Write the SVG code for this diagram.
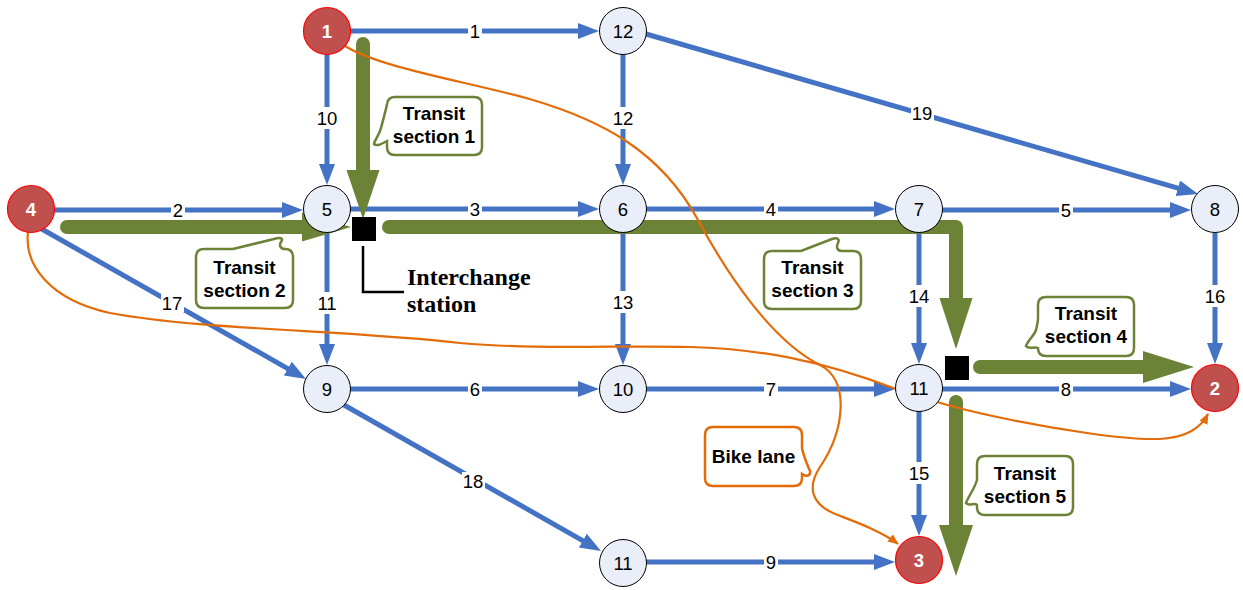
<svg xmlns="http://www.w3.org/2000/svg" width="1243" height="590" viewBox="0 0 1243 590">
<style>
.edge{stroke:#4472C4;stroke-width:5;fill:none;marker-end:url(#ab)}
.lbl rect{fill:#fff}
.lbl text,.node text{font-family:"Liberation Sans",Arial,sans-serif;font-size:18.5px;text-anchor:middle;fill:#000}
.node circle{fill:#E9EEF8;stroke:#000;stroke-width:1}
.src circle{fill:#C0504D;stroke:#FF0000;stroke-width:1.2}
.src text{fill:#fff;font-weight:bold}
.tr{stroke:#6B8237;stroke-width:14;fill:none;stroke-linecap:round;stroke-linejoin:round}
.trh{fill:#6B8237}
.bike{stroke:#E36C09;stroke-width:2.2;fill:none;marker-end:url(#ao)}
.co{fill:#fff;stroke:#6B8237;stroke-width:2.5}
.cob{fill:#fff;stroke:#E36C09;stroke-width:2.5}
.ct{font-family:"Liberation Sans",Arial,sans-serif;font-size:19px;font-weight:bold;text-anchor:middle;fill:#000}
.ic{font-family:"Liberation Serif","Times New Roman",serif;font-size:24px;font-weight:bold;fill:#000}
</style>
<defs>
<marker id="ab" markerUnits="userSpaceOnUse" markerWidth="22" markerHeight="17" refX="9" refY="8" orient="auto">
<path d="M0,0 L21,8 L0,16 Z" fill="#4472C4"/>
</marker>
<marker id="ao" markerUnits="userSpaceOnUse" markerWidth="12" markerHeight="10" refX="10" refY="4.5" orient="auto">
<path d="M0,0 L11,4.5 L0,9 Z" fill="#E36C09"/>
</marker>
</defs>
<rect width="1243" height="590" fill="#fff"/>

<g id="connectors">
<g id="blue-edges">
<line class="edge" x1="350" y1="31" x2="587" y2="31"/>
<line class="edge" x1="327" y1="54" x2="327" y2="173"/>
<line class="edge" x1="623" y1="54" x2="623" y2="173"/>
<line class="edge" x1="646" y1="34" x2="1186.5" y2="190.7"/>
<line class="edge" x1="54" y1="210" x2="291" y2="210"/>
<line class="edge" x1="350" y1="209" x2="587" y2="209"/>
<line class="edge" x1="646" y1="209" x2="883" y2="209"/>
<line class="edge" x1="942" y1="210" x2="1179" y2="210"/>
<line class="edge" x1="327" y1="233" x2="327" y2="353"/>
<line class="edge" x1="623" y1="233" x2="623" y2="353"/>
<line class="edge" x1="919" y1="233" x2="919" y2="352"/>
<line class="edge" x1="1215" y1="233" x2="1215" y2="352"/>
<line class="edge" x1="40" y1="228" x2="295.6" y2="373.1"/>
<line class="edge" x1="350" y1="389" x2="587" y2="389"/>
<line class="edge" x1="646" y1="389" x2="883" y2="389"/>
<line class="edge" x1="942" y1="389" x2="1179" y2="389"/>
<line class="edge" x1="344" y1="405" x2="590.6" y2="545.1"/>
<line class="edge" x1="919" y1="411" x2="919" y2="524"/>
<line class="edge" x1="646" y1="562" x2="883" y2="562"/>
</g>
<g id="edge-labels" class="lbl">
<rect x="468" y="21" width="14" height="20"/><text x="475" y="37.5">1</text>
<rect x="315" y="107" width="24" height="22"/><text x="327" y="124.5">10</text>
<rect x="611" y="107" width="24" height="22"/><text x="623" y="124.5">12</text>
<rect x="911" y="104" width="23" height="18"/><text x="922" y="119.5">19</text>
<rect x="171" y="200" width="14" height="20"/><text x="178" y="216.5">2</text>
<rect x="468" y="199" width="14" height="20"/><text x="475" y="215.5">3</text>
<rect x="764" y="199" width="14" height="20"/><text x="771" y="215.5">4</text>
<rect x="1059" y="200" width="14" height="20"/><text x="1066" y="216.5">5</text>
<rect x="315" y="292" width="24" height="22"/><text x="327" y="309.5">11</text>
<rect x="611" y="291" width="24" height="22"/><text x="623" y="308.5">13</text>
<rect x="907" y="285" width="24" height="22"/><text x="919" y="302.5">14</text>
<rect x="1203" y="285" width="24" height="22"/><text x="1215" y="302.5">16</text>
<rect x="161" y="294" width="23" height="18"/><text x="172" y="309.5">17</text>
<rect x="468" y="379" width="14" height="20"/><text x="475" y="395.5">6</text>
<rect x="764" y="379" width="14" height="20"/><text x="771" y="395.5">7</text>
<rect x="1059" y="379" width="14" height="20"/><text x="1066" y="395.5">8</text>
<rect x="462" y="472" width="23" height="18"/><text x="473" y="487.5">18</text>
<rect x="907" y="462" width="24" height="22"/><text x="919" y="479.5">15</text>
<rect x="764" y="552" width="14" height="20"/><text x="771" y="568.5">9</text>
</g>
<g id="transit">
<line class="tr" x1="363" y1="44" x2="363" y2="172"/>
<polygon class="trh" points="346.5,170 379.5,170 363,219"/>
<line class="tr" x1="67" y1="227" x2="305" y2="227"/>
<polygon class="trh" points="302,212.5 302,241.5 351,227"/>
<polyline class="tr" points="389,227 956,227 956,300"/>
<polygon class="trh" points="939.5,298 972.5,298 956,349"/>
<line class="tr" x1="980" y1="367" x2="1146" y2="367"/>
<polygon class="trh" points="1143,351 1143,383 1194,367"/>
<line class="tr" x1="956" y1="402" x2="956" y2="527"/>
<polygon class="trh" points="939,525 973,525 956,576"/>
</g>
<g id="bike-lanes">
<path class="bike" d="M345,46 C380,68 470,82 533,100 C600,120 660,150 698,220 C725,270 770,340 820,365 C850,380 845,430 820,467 C805,490 815,505 833,513 C850,520 880,530 898,544"/>
<path class="bike" d="M28,232 C24,265 50,300 110,313 C200,330 350,330 460,343 C540,350 620,345 690,347 C760,349 820,360 896,389 L937,402 C970,412 1030,425 1087,433 C1150,442 1192,445 1208,414"/>
</g>
</g>

<g id="n1" class="node src"><circle cx="327" cy="31" r="23.5"/><text x="327" y="37.5">1</text></g>
<g id="n12" class="node"><circle cx="623" cy="31" r="23.5"/><text x="623" y="37.5">12</text></g>
<g id="n4" class="node src"><circle cx="31" cy="209" r="23.5"/><text x="31" y="215.5">4</text></g>
<g id="n5" class="node"><circle cx="327" cy="209" r="23.5"/><text x="327" y="215.5">5</text></g>
<g id="n6" class="node"><circle cx="623" cy="209" r="23.5"/><text x="623" y="215.5">6</text></g>
<g id="n7" class="node"><circle cx="919" cy="209" r="23.5"/><text x="919" y="215.5">7</text></g>
<g id="n8" class="node"><circle cx="1215" cy="209" r="23.5"/><text x="1215" y="215.5">8</text></g>
<g id="n9" class="node"><circle cx="327" cy="389" r="23.5"/><text x="327" y="395.5">9</text></g>
<g id="n10" class="node"><circle cx="623" cy="389" r="23.5"/><text x="623" y="395.5">10</text></g>
<g id="n11" class="node"><circle cx="919" cy="388" r="23.5"/><text x="919" y="394.5">11</text></g>
<g id="n2" class="node src"><circle cx="1215" cy="388" r="23.5"/><text x="1215" y="394.5">2</text></g>
<g id="n11b" class="node"><circle cx="623" cy="563" r="23.5"/><text x="623" y="569.5">11</text></g>
<g id="n3" class="node src"><circle cx="919" cy="560" r="23.5"/><text x="919" y="566.5">3</text></g>

<g id="interchange">
<rect x="352" y="217" width="24" height="24" fill="#000"/>
<rect x="945" y="356" width="24" height="24" fill="#000"/>
<polyline points="363,246 363,292 404,292" fill="none" stroke="#000" stroke-width="2.5"/>
<text class="ic" x="407" y="285">Interchange</text>
<text class="ic" x="407" y="312">station</text>
</g>

<g id="callout1">
<path class="co" d="M395,97 H474 Q482,97 482,105 V147 Q482,155 474,155 H395 Q387,155 387,147 V141 C383,143 377,147 374,144 C374,141 379,136 381,128 C383,120 386,110 387,104 Q388,97 395,97 Z"/>
<text class="ct" x="434" y="120">Transit</text>
<text class="ct" x="434" y="143">section 1</text>
</g>
<g id="callout2">
<path class="co" d="M204,249 H233 L274,239 C280,237 284,238 281,242 C279,245 280,249 285,249 Q293,249 293,257 V300 Q293,308 285,308 H204 Q196,308 196,300 V257 Q196,249 204,249 Z"/>
<text class="ct" x="244.5" y="274">Transit</text>
<text class="ct" x="244.5" y="297">section 2</text>
</g>
<g id="callout3">
<path class="co" d="M772,251 H801 L832,239 C837,237 840,239 838,243 C836,247 837,251 842,251 H853 Q861,251 861,259 V301 Q861,309 853,309 H772 Q764,309 764,301 V259 Q764,251 772,251 Z"/>
<text class="ct" x="812.5" y="274">Transit</text>
<text class="ct" x="812.5" y="297">section 3</text>
</g>
<g id="callout4">
<path class="co" d="M1046,297 H1126 Q1134,297 1134,305 V348 Q1134,356 1126,356 H1046 Q1038,356 1038,348 C1034,346 1029,350 1026,346 C1028,340 1034,336 1036,330 C1037,326 1038,322 1038,318 V305 Q1038,297 1046,297 Z"/>
<text class="ct" x="1086" y="320">Transit</text>
<text class="ct" x="1086" y="343">section 4</text>
</g>
<g id="callout5">
<path class="co" d="M985,456 H1065 Q1073,456 1073,464 V507 Q1073,515 1065,515 H985 Q977,515 977,507 V505 C974,502 969,507 966,503 C968,497 974,490 977,480 V464 Q977,456 985,456 Z"/>
<text class="ct" x="1025" y="480">Transit</text>
<text class="ct" x="1025" y="503">section 5</text>
</g>
<g id="callout-bike">
<path class="cob" d="M713,427 H794 Q802,427 802,435 V448 C804,458 808,466 810,471 C811,476 806,477 802,474 V478 Q802,486 794,486 H713 Q705,486 705,478 V435 Q705,427 713,427 Z"/>
<text class="ct" x="753.5" y="463">Bike lane</text>
</g>
</svg>
